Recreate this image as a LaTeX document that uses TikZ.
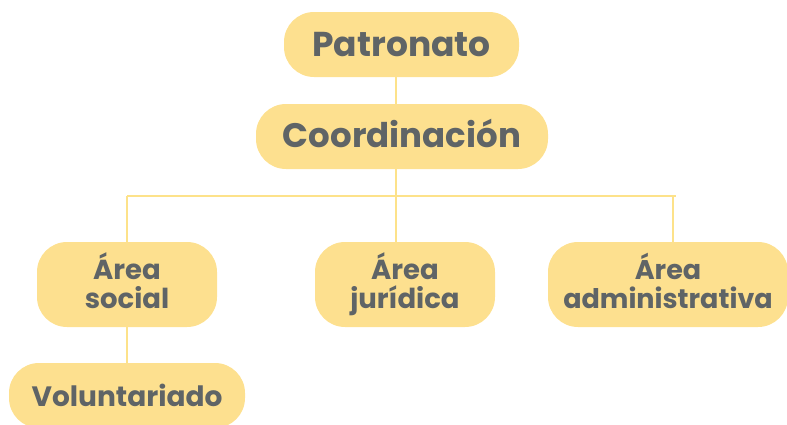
\documentclass[tikz,border=0pt]{standalone}
\usepackage{fontspec}
\setmainfont{Poppins}
\definecolor{boxfill}{HTML}{FDE08F}
\definecolor{txt}{HTML}{5F6466}
\definecolor{conn}{HTML}{FDE28A}
\begin{document}
\begin{tikzpicture}[x=1pt,y=-1pt,
  box/.style={fill=boxfill,rounded corners=30pt,inner sep=0pt},
  lbl/.style={anchor=base,inner sep=0pt,text=txt,font=\bfseries\fontsize{#1}{#1}\selectfont},
  conline/.style={draw=conn,line width=2pt}]
\useasboundingbox (0,0) rectangle (787,424);
\clip (0,0) rectangle (787,424);
% connector junctions
\coordinate (hl) at (127,196);
\coordinate (hr) at (676,196);
\coordinate (hc) at (396,196);
\coordinate (ha) at (673,196);
% boxes
\node[box,minimum width=235pt,minimum height=65pt] (pat) at (401.5,44.5) {};
\node[box,minimum width=292pt,minimum height=65pt] (coo) at (402,136.5) {};
\node[box,minimum width=180pt,minimum height=85pt] (soc) at (127,284.5) {};
\node[box,minimum width=180pt,minimum height=85pt] (jur) at (405,284.5) {};
\node[box,minimum width=240pt,minimum height=85pt] (adm) at (668,284.5) {};
\node[box,minimum width=236pt,minimum height=65pt] (vol) at (127,395.5) {};
% connectors
\draw[conline] (hc |- pat.south) -- (hc |- coo.north);
\draw[conline] (hc |- coo.south) -- (hc);
\draw[conline] (hl) -- (hr);
\draw[conline] (hl) -- (hl |- soc.north);
\draw[conline] (hc) -- (hc |- jur.north);
\draw[conline] (ha) -- (ha |- adm.north);
\draw[conline] (soc.south) -- (vol.north);
% labels
\node[lbl=34.5] (patT) at (401.5,56) {Patronato};
\node[lbl=34] (cooT) at (402,147.7) {Coordinación};
\node[lbl=27.5] (socA) at (127,279.3) {Área};
\node[lbl=27.5] (socB) at (127,308.3) {social};
\node[lbl=27.5] (jurA) at (405,279.3) {Área};
\node[lbl=27.5] (jurB) at (405,308.3) {jurídica};
\node[lbl=27] (admA) at (668,279.3) {Área};
\node[lbl=27] (admB) at (668,308.3) {administrativa};
\node[lbl=28] (volT) at (127,406) {Voluntariado};
\end{tikzpicture}
\end{document}
